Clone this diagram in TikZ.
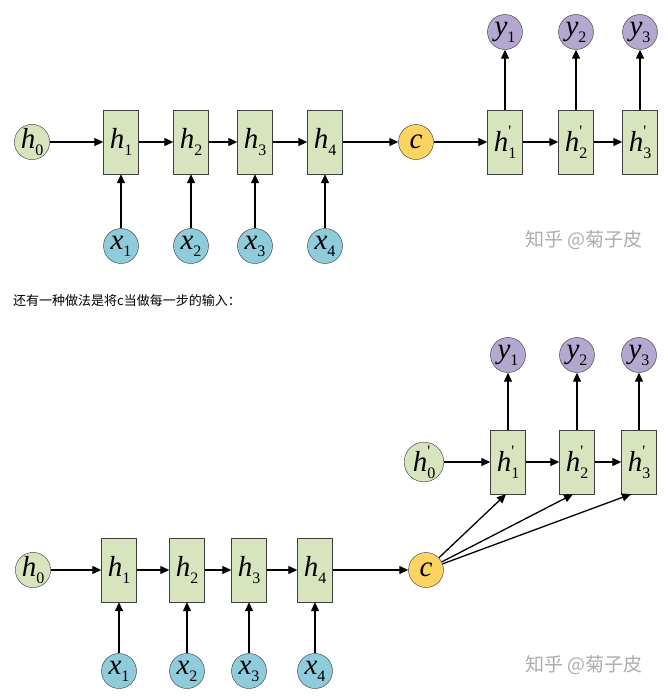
\documentclass[tikz,border=0pt]{standalone}
\usepackage{fontspec}
\setmainfont{Liberation Serif}
\newfontfamily\cjk{Noto Sans CJK SC}
\usetikzlibrary{arrows.meta}
\definecolor{boxgreen}{HTML}{D7E4BD}
\definecolor{inblue}{HTML}{8ECBDB}
\definecolor{outpurple}{HTML}{B4A7D0}
\definecolor{ctxyellow}{HTML}{FBD462}
\newcommand\sv[2]{\textit{#1}\raisebox{-0.24em}{\fontsize{16}{16}\selectfont #2}}
\newcommand\svp[2]{\textit{#1}\rlap{\raisebox{0.52em}{\fontsize{16}{16}\selectfont\textquotesingle}}\raisebox{-0.24em}{\fontsize{16}{16}\selectfont #2}}

\begin{document}
\begin{tikzpicture}[x=1pt,y=-1pt,
    every node/.style={font=\fontsize{29}{29}\selectfont, inner sep=0},
    cell/.style={draw=black!75, fill=boxgreen, minimum width=35, minimum height=64},
    hid/.style={circle, draw=black!80, fill=boxgreen, minimum size=33},
    inp/.style={circle, draw=black!80, fill=inblue, minimum size=35},
    outp/.style={circle, draw=black!80, fill=outpurple, minimum size=35},
    ctx/.style={circle, draw=black!80, fill=ctxyellow, minimum size=35},
    arr/.style={-{Triangle[length=9pt,width=8pt]}, line width=1.3pt},
    watermark/.style={font=\cjk\fontsize{19}{19}\selectfont, text=black!32}]
    \useasboundingbox (0,0) rectangle (668,697);
    % encoder / decoder, c only at the start
    \node[hid] (h0) at (32,142) {\sv{h}{0}};
    \node[cell] (h1) at (121,142) {\sv{h}{1}};
    \node[cell] (h2) at (191,142) {\sv{h}{2}};
    \node[cell] (h3) at (255,142) {\sv{h}{3}};
    \node[cell] (h4) at (325,142) {\sv{h}{4}};
    \node[inp] (x1) at (121,246) {\sv{x}{1}};
    \node[inp] (x2) at (191,246) {\sv{x}{2}};
    \node[inp] (x3) at (255,246) {\sv{x}{3}};
    \node[inp] (x4) at (325,246) {\sv{x}{4}};
    \node[ctx] (c) at (416,142) {\textit{c}};
    \node[cell] (d1) at (505,142) {\svp{h}{1}};
    \node[cell] (d2) at (576,142) {\svp{h}{2}};
    \node[cell] (d3) at (640,142) {\svp{h}{3}};
    \node[outp] (y1) at (505,32) {\sv{y}{1}};
    \node[outp] (y2) at (576,32) {\sv{y}{2}};
    \node[outp] (y3) at (640,32) {\sv{y}{3}};
    \draw[arr] (h0) -- (h1);
    \draw[arr] (h1) -- (h2);
    \draw[arr] (h2) -- (h3);
    \draw[arr] (h3) -- (h4);
    \draw[arr] (h4) -- (c);
    \draw[arr] (c) -- (d1);
    \draw[arr] (d1) -- (d2);
    \draw[arr] (d2) -- (d3);
    \draw[arr] (x1) -- (h1);
    \draw[arr] (x2) -- (h2);
    \draw[arr] (x3) -- (h3);
    \draw[arr] (x4) -- (h4);
    \draw[arr] (d1) -- (y1);
    \draw[arr] (d2) -- (y2);
    \draw[arr] (d3) -- (y3);
    \node[watermark] (m1) at (584,240) {知乎 @菊子皮};
    \node[anchor=west, font=\cjk\fontsize{13}{13}\selectfont] (txt) at (13,301) {还有一种做法是将c当做每一步的输入：};
    % c fed to every decoder step
    \node[hid] (b0) at (33,570) {\sv{h}{0}};
    \node[cell] (b1) at (119,570) {\sv{h}{1}};
    \node[cell] (b2) at (187,570) {\sv{h}{2}};
    \node[cell] (b3) at (249,570) {\sv{h}{3}};
    \node[cell] (b4) at (315,570) {\sv{h}{4}};
    \node[inp] (u1) at (119,671) {\sv{x}{1}};
    \node[inp] (u2) at (187,671) {\sv{x}{2}};
    \node[inp] (u3) at (249,671) {\sv{x}{3}};
    \node[inp] (u4) at (315,671) {\sv{x}{4}};
    \node[ctx] (cb) at (426,570) {\textit{c}};
    \node[hid] (e0) at (424,462) {\svp{h}{0}};
    \node[cell] (e1) at (508,462) {\svp{h}{1}};
    \node[cell] (e2) at (577,462) {\svp{h}{2}};
    \node[cell] (e3) at (639,462) {\svp{h}{3}};
    \node[outp] (v1) at (508,355) {\sv{y}{1}};
    \node[outp] (v2) at (577,355) {\sv{y}{2}};
    \node[outp] (v3) at (639,355) {\sv{y}{3}};
    \draw[arr] (b0) -- (b1);
    \draw[arr] (b1) -- (b2);
    \draw[arr] (b2) -- (b3);
    \draw[arr] (b3) -- (b4);
    \draw[arr] (b4) -- (cb);
    \draw[arr] (u1) -- (b1);
    \draw[arr] (u2) -- (b2);
    \draw[arr] (u3) -- (b3);
    \draw[arr] (u4) -- (b4);
    \draw[arr] (e0) -- (e1);
    \draw[arr] (e1) -- (e2);
    \draw[arr] (e2) -- (e3);
    \draw[arr] (e1) -- (v1);
    \draw[arr] (e2) -- (v2);
    \draw[arr] (e3) -- (v3);
    \draw[arr] (cb) -- ([xshift=-2]e1.south);
    \draw[arr] (cb) -- ([xshift=-4]e2.south);
    \draw[arr] (cb) -- ([xshift=-8]e3.south);
    \node[watermark] (m2) at (584,665) {知乎 @菊子皮};
\end{tikzpicture}
\end{document}
